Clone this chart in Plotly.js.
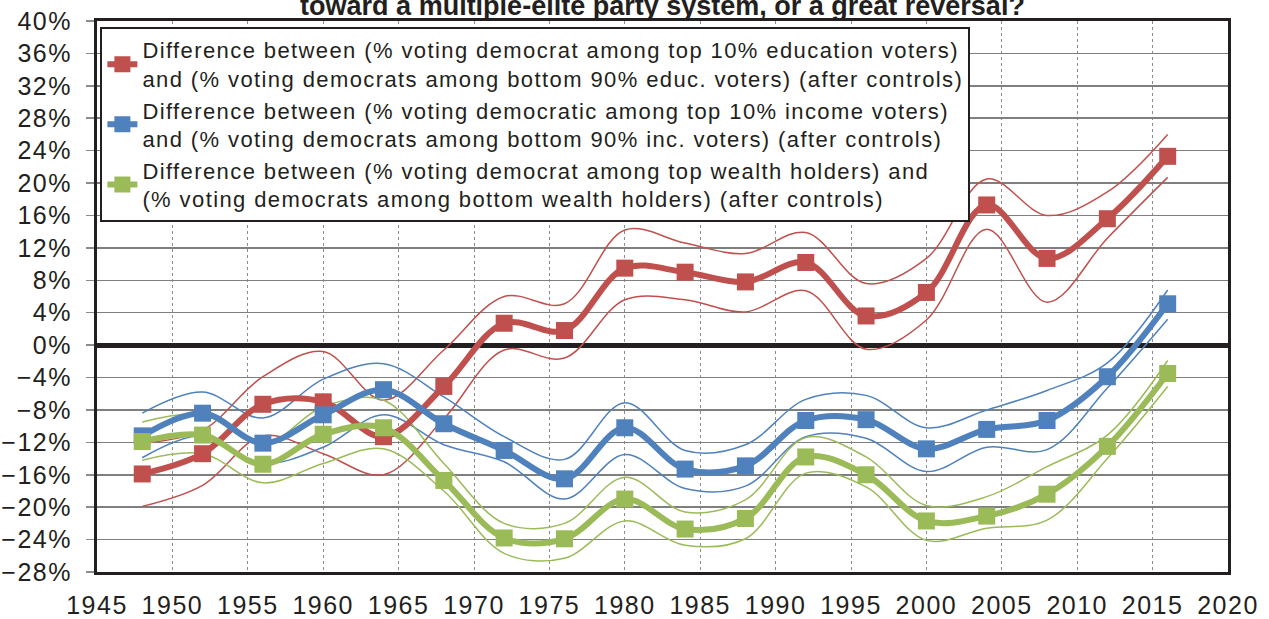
<!DOCTYPE html>
<html>
<head>
<meta charset="utf-8">
<script src="https://cdn.plot.ly/plotly-3.0.1.min.js"></script>
<style>
html,body{margin:0;padding:0;background:#fff;}
#chart{width:1269px;height:619px;}
.legendtext{letter-spacing:1.4px;}
.xtick text,.ytick text{letter-spacing:1.5px;}
</style>
</head>
<body>
<div id="chart"></div>
<script>
const years = [1948,1952,1956,1960,1964,1968,1972,1976,1980,1984,1988,1992,1996,2000,2004,2008,2012,2016];

const educ   = [-15.9,-13.4,-7.3,-7.0,-11.3,-5.1,2.7,1.8,9.5,9.0,7.8,10.2,3.6,6.5,17.3,10.7,15.6,23.3];
const educHi = [-12.1,-10.5,-3.9,-0.8,-6.8,-0.6,6.0,5.1,14.2,12.6,11.3,13.9,7.6,10.7,20.5,16.0,18.9,26.0];
const educLo = [-19.9,-17.3,-11.2,-13.4,-16.0,-9.1,-0.6,-1.6,5.6,5.6,4.1,6.7,-0.5,3.1,14.3,5.3,13.2,20.7];

const income   = [-11.2,-8.4,-12.1,-8.6,-5.5,-9.7,-13.0,-16.5,-10.2,-15.3,-14.9,-9.3,-9.2,-12.8,-10.4,-9.3,-3.9,5.1];
const incomeHi = [-8.4,-5.8,-9.0,-4.2,-2.3,-6.4,-11.3,-14.1,-7.1,-13.0,-12.3,-6.7,-6.2,-10.2,-8.0,-5.6,-2.2,6.8];
const incomeLo = [-13.9,-11.2,-14.6,-12.6,-8.6,-12.3,-14.4,-19.0,-13.5,-17.7,-17.4,-11.3,-11.5,-15.6,-12.6,-12.9,-5.3,3.2];

const wealth   = [-11.9,-11.1,-14.7,-11.0,-10.2,-16.7,-23.8,-23.9,-19.0,-22.7,-21.4,-13.8,-16.0,-21.7,-21.1,-18.4,-12.5,-3.5];
const wealthHi = [-9.5,-8.6,-12.3,-7.6,-6.8,-14.6,-22.0,-22.0,-16.3,-20.6,-19.1,-11.4,-13.8,-19.8,-18.7,-15.0,-11.1,-1.9];
const wealthLo = [-14.2,-13.4,-17.0,-14.6,-12.8,-18.0,-25.7,-26.3,-21.7,-24.7,-23.9,-15.8,-17.5,-24.1,-22.6,-21.6,-14.0,-5.1];

const names = [
  "Difference between (% voting democrat among top 10% education voters)<br>and (% voting democrats among bottom 90% educ. voters) (after controls)",
  "Difference between (% voting democratic among top 10% income voters)<br>and (% voting democrats among bottom 90% inc. voters) (after controls)",
  "Difference between (% voting democrat among top wealth holders) and<br>(% voting democrats among bottom wealth holders) (after controls)"
];
const titleText = "toward a multiple-elite party system, or a great reversal?";
const xTicks = [1945,1950,1955,1960,1965,1970,1975,1980,1985,1990,1995,2000,2005,2010,2015,2020];

const colors = ["#C0504D","#4F81BD","#9BBB59"];
const mains = [educ, income, wealth];
const his = [educHi, incomeHi, wealthHi];
const los = [educLo, incomeLo, wealthLo];

const FONT = "Liberation Sans, Arial, Helvetica, sans-serif";
const traces = [];
for (let i = 0; i < 3; i++) {
  [his[i], los[i]].forEach(arr => traces.push({
    x: years, y: arr, type: "scatter", mode: "lines",
    line: {color: colors[i], width: 1.5, shape: "spline", smoothing: 1},
    showlegend: false, hoverinfo: "skip"
  }));
}
for (let i = 0; i < 3; i++) {
  traces.push({
    x: years, y: mains[i], type: "scatter", mode: "lines+markers", name: names[i],
    line: {color: colors[i], width: 6, shape: "spline", smoothing: 1},
    marker: {symbol: "square", size: 17, color: colors[i]}
  });
}

const layout = {
  width: 1269, height: 619,
  margin: {l: 97, r: 41, t: 21, b: 47, pad: 0},
  paper_bgcolor: "#ffffff", plot_bgcolor: "#ffffff",
  font: {family: FONT, color: "#231f20"},
  title: {
    text: "<b>" + titleText + "</b>",
    font: {family: FONT, size: 27, color: "#231f20"},
    x: 0.5, xref: "paper", y: 0.9914, yref: "container", yanchor: "middle"
  },
  showlegend: true,
  legend: {
    x: 0.003, y: 0.989, xanchor: "left", yanchor: "top",
    bgcolor: "#ffffff", bordercolor: "#231f20", borderwidth: 2,
    font: {family: FONT, size: 22, color: "#231f20"},
    itemwidth: 30, tracegroupgap: 0
  },
  xaxis: {
    range: [1945, 2020], tickmode: "array", tickvals: xTicks, ticktext: xTicks.map(String),
    showgrid: true, gridcolor: "#8c8c8c", gridwidth: 1, griddash: "dot",
    ticks: "", ticklabelstandoff: 9,
    tickfont: {family: FONT, size: 25, color: "#231f20"},
    showline: true, mirror: true, linecolor: "#231f20", linewidth: 3,
    zeroline: false, fixedrange: true
  },
  yaxis: {
    range: [-28, 40], tick0: 0, dtick: 4, ticksuffix: "%",
    showgrid: true, gridcolor: "#7f7f7f", gridwidth: 1.5,
    ticks: "outside", ticklen: 8, tickcolor: "#8c8c8c", tickwidth: 1.5,
    ticklabelstandoff: 9,
    tickfont: {family: FONT, size: 25, color: "#231f20"},
    showline: true, mirror: true, linecolor: "#231f20", linewidth: 3,
    zeroline: true, zerolinecolor: "#231f20", zerolinewidth: 5, fixedrange: true
  }
};

Plotly.newPlot("chart", traces, layout, {displayModeBar: false, staticPlot: true});
</script>
</body>
</html>
